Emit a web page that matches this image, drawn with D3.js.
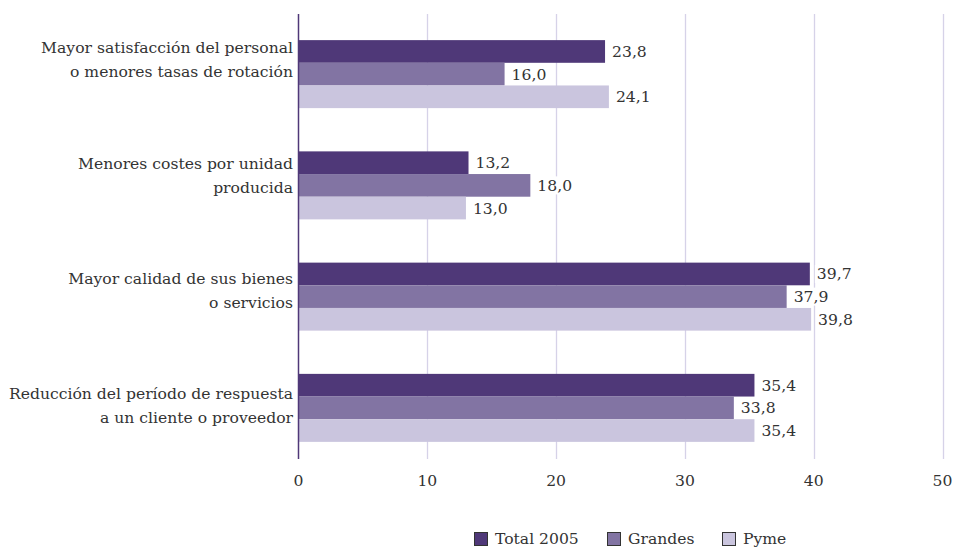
<!DOCTYPE html>
<html>
<head>
<meta charset="utf-8">
<script src="https://cdn.jsdelivr.net/npm/d3@7"></script>
<style>
  html, body { margin: 0; padding: 0; background: #fff; }
  svg { display: block; }
  text { font-family: "DejaVu Serif", "Liberation Serif", serif; fill: #333; }
</style>
</head>
<body>
<svg id="chart" width="957" height="547"></svg>
<script>
// Categories (top to bottom), each label split over two lines
const categories = [
  ["Mayor satisfacción del personal", "o menores tasas de rotación"],
  ["Menores costes por unidad", "producida"],
  ["Mayor calidad de sus bienes", "o servicios"],
  ["Reducción del período de respuesta", "a un cliente o proveedor"]
];
const seriesNames = ["Total 2005", "Grandes", "Pyme"];
const total2005 = [23.8, 13.2, 39.7, 35.4];
const grandes   = [16.0, 18.0, 37.9, 33.8];
const pyme      = [24.1, 13.0, 39.8, 35.4];
const xTicks = [0, 10, 20, 30, 40, 50];

const colors = ["#4f3878", "#8274a3", "#cac5de"];
const seriesValues = [total2005, grandes, pyme];
const fontSize = 15.6;

const svg = d3.select("#chart");
const fmt = v => d3.format(".1f")(v).replace(".", ",");

const x = d3.scaleLinear().domain([0, 50]).range([298.5, 942.5]);
const keys = categories.map((c, i) => i);
const y = d3.scaleBand().domain(keys).range([18.5, 463.5]).paddingInner(0).paddingOuter(0);
const groupH = 68;
const yInner = d3.scaleBand().domain(d3.range(seriesNames.length)).range([0, groupH]);

// Vertical gridlines
svg.append("g").selectAll("line")
  .data(xTicks.filter(t => t > 0))
  .join("line")
  .attr("x1", d => Math.round(x(d)) + 0.5)
  .attr("x2", d => Math.round(x(d)) + 0.5)
  .attr("y1", 14).attr("y2", 459)
  .attr("stroke", "#d6d2e8").attr("stroke-width", 1.3);

// Bars
const groups = svg.append("g").selectAll("g")
  .data(keys)
  .join("g")
  .attr("transform", i => `translate(0,${y(i) + (y.bandwidth() - groupH) / 2})`);

groups.selectAll("rect")
  .data(i => seriesValues.map((vals, s) => ({ s, v: vals[i] })))
  .join("rect")
  .attr("x", x(0))
  .attr("y", d => yInner(d.s))
  .attr("width", d => x(d.v) - x(0))
  .attr("height", yInner.bandwidth())
  .attr("fill", d => colors[d.s]);

// Value labels with white backing
const labelG = groups.selectAll("g.lbl")
  .data(i => seriesValues.map((vals, s) => ({ s, v: vals[i] })))
  .join("g")
  .attr("class", "lbl")
  .attr("transform", d => `translate(${x(d.v) + 5},${yInner(d.s) + yInner.bandwidth() / 2})`);

labelG.append("rect")
  .attr("x", 0).attr("y", -9)
  .attr("width", 40).attr("height", 18)
  .attr("fill", "#fff");
labelG.append("text")
  .attr("x", 2)
  .attr("dy", "0.35em")
  .attr("font-size", fontSize)
  .text(d => fmt(d.v));

// Zero axis line
svg.append("line")
  .attr("x1", x(0)).attr("x2", x(0))
  .attr("y1", 14).attr("y2", 459)
  .attr("stroke", "#4f3878").attr("stroke-width", 1.5);

// X tick labels
svg.append("g").selectAll("text")
  .data(xTicks)
  .join("text")
  .attr("x", d => x(d))
  .attr("y", 481)
  .attr("dy", "0.35em")
  .attr("text-anchor", "middle")
  .attr("font-size", fontSize)
  .text(d => d);

// Category labels
const yLabel = d3.scalePoint().domain(keys).range([60, 406]);
svg.append("g").selectAll("text")
  .data(keys)
  .join("text")
  .attr("text-anchor", "end")
  .attr("font-size", fontSize)
  .attr("transform", i => `translate(293,${yLabel(i)})`)
  .each(function (i) {
    const t = d3.select(this);
    categories[i].forEach((line, k) => {
      t.append("tspan")
        .attr("x", 0)
        .attr("y", (k - 0.5) * 24)
        .attr("dy", "0.35em")
        .text(line);
    });
  });

// Legend
const legendX = [474, 607, 722];
const legend = svg.append("g").selectAll("g")
  .data(seriesNames)
  .join("g")
  .attr("transform", (d, i) => `translate(${legendX[i]},532)`);
legend.append("rect")
  .attr("x", 0.5).attr("y", 0.5)
  .attr("width", 13).attr("height", 13)
  .attr("fill", (d, i) => colors[i])
  .attr("stroke", "#333").attr("stroke-width", 1);
legend.append("text")
  .attr("x", 21).attr("y", 7)
  .attr("dy", "0.35em")
  .attr("font-size", fontSize)
  .text(d => d);
</script>
</body>
</html>
